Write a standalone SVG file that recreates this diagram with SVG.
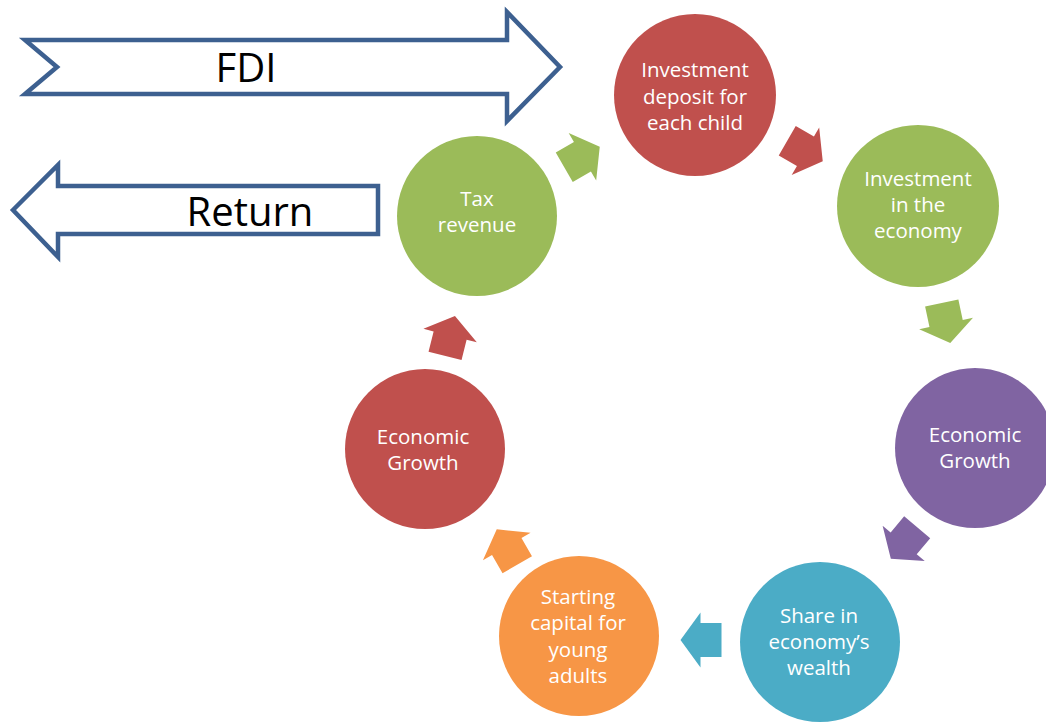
<svg xmlns="http://www.w3.org/2000/svg" width="1046" height="725" viewBox="0 0 1046 725">
<style>
.big{fill:#fff;stroke:#3D6090;stroke-width:4.5;stroke-linejoin:miter}
.bt{font-family:"Open Sans",sans-serif;font-size:40px;fill:#000;text-anchor:middle}
.ct{font-family:"Open Sans",sans-serif;font-size:20.5px;fill:#fff;text-anchor:middle}
.red{fill:#C0504D}.grn{fill:#9BBB59}.pur{fill:#8064A2}.tea{fill:#4BACC6}.ora{fill:#F79646}
</style>
<defs>
<path id="blk" d="M-20.5,-17 L0.5,-17 L0.5,-27.5 L20.5,0 L0.5,27.5 L0.5,17 L-20.5,17 Z"/>
</defs>
<rect width="1046" height="725" fill="#fff"/>
<g id="fdi">
<path class="big" d="M25,40 L507,40 L507,12 L560,67 L507,121 L507,94 L25,94 L57,67 Z"/>
<text class="bt" x="246" y="82">FDI</text>
</g>
<g id="return">
<path class="big" d="M13,210 L58,165 L58,186 L378,186 L378,234 L58,234 L58,257 Z"/>
<text class="bt" x="250" y="226">Return</text>
</g>
<g id="connectors">
<use href="#blk" class="grn" transform="translate(582,157) rotate(-30)"/>
<use href="#blk" class="red" transform="translate(805,151) rotate(30)"/>
<use href="#blk" class="grn" transform="translate(946,323) rotate(78)"/>
<use href="#blk" class="pur" transform="translate(904,543) rotate(130)"/>
<use href="#blk" class="tea" transform="translate(701,640) rotate(180)"/>
<use href="#blk" class="ora" transform="translate(507,547) rotate(-120)"/>
<use href="#blk" class="red" transform="translate(450,336) rotate(-76)"/>
</g>
<g id="deposit">
<circle class="red" cx="695" cy="95" r="81"/>
<text class="ct" x="695" y="77">Investment</text>
<text class="ct" x="695" y="104">deposit for</text>
<text class="ct" x="695" y="130">each child</text>
</g>
<g id="invest">
<circle class="grn" cx="918" cy="206" r="81"/>
<text class="ct" x="918" y="186">Investment</text>
<text class="ct" x="918" y="212">in the</text>
<text class="ct" x="918" y="238">economy</text>
</g>
<g id="growth1">
<circle class="pur" cx="975" cy="448" r="80"/>
<text class="ct" x="975" y="442">Economic</text>
<text class="ct" x="975" y="468">Growth</text>
</g>
<g id="share">
<circle class="tea" cx="820" cy="642" r="80"/>
<text class="ct" x="819" y="623">Share in</text>
<text class="ct" x="819" y="649">economy’s</text>
<text class="ct" x="819" y="675">wealth</text>
</g>
<g id="capital">
<circle class="ora" cx="579" cy="636" r="80"/>
<text class="ct" x="578" y="604">Starting</text>
<text class="ct" x="578" y="630">capital for</text>
<text class="ct" x="578" y="657">young</text>
<text class="ct" x="578" y="683">adults</text>
</g>
<g id="growth2">
<circle class="red" cx="425" cy="449" r="80"/>
<text class="ct" x="423" y="444">Economic</text>
<text class="ct" x="423" y="470">Growth</text>
</g>
<g id="tax">
<circle class="grn" cx="477" cy="216" r="80"/>
<text class="ct" x="477" y="206">Tax</text>
<text class="ct" x="477" y="232">revenue</text>
</g>
</svg>
